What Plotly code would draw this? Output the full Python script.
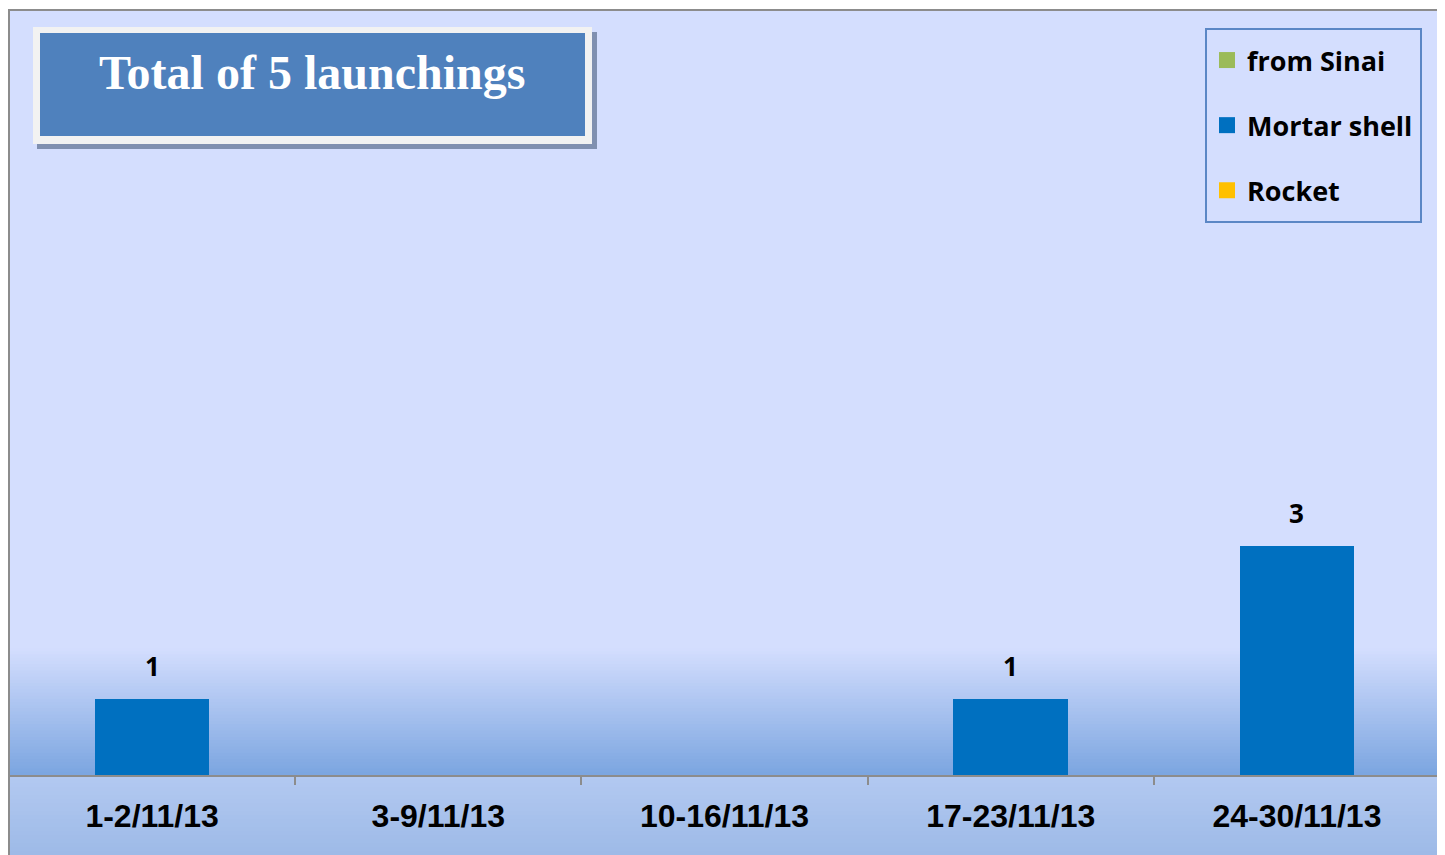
import plotly.graph_objects as go

# ---- data ----
categories = ["1-2/11/13", "3-9/11/13", "10-16/11/13", "17-23/11/13", "24-30/11/13"]
from_sinai = [0, 0, 0, 0, 0]
mortar_shell = [1, 0, 0, 1, 3]
rocket = [0, 0, 0, 0, 0]
title_text = "Total of 5 launchings"

series = [
    ("from Sinai", from_sinai, "#9BBB59"),
    ("Mortar shell", mortar_shell, "#0070C0"),
    ("Rocket", rocket, "#FFC000"),
]
totals = [a + b + c for a, b, c in zip(from_sinai, mortar_shell, rocket)]

# ---- layout geometry (page pixels; page body has an 8px margin) ----
OFF = 8
PAGE_W, PAGE_H = 1445, 855
W, H = PAGE_W - OFF, PAGE_H - OFF
PL, PT, PR, PB = 9, 10, 1440, 775   # plot area edges in page pixels
L, T = PL - OFF, PT - OFF
R = W - (PR - OFF)
B = H - (PB - OFF)
PW = PR - PL
PH = PB - PT


def px(x):
    return (x - PL) / PW


def py(y):
    return (PB - y) / PH


def hexlerp(c1, c2, t):
    a = [int(c1[i:i + 2], 16) for i in (1, 3, 5)]
    b = [int(c2[i:i + 2], 16) for i in (1, 3, 5)]
    return "#" + "".join(f"{round(a[k] + (b[k] - a[k]) * t):02x}" for k in range(3))


fig = go.Figure()
for name, vals, col in series:
    fig.add_trace(go.Bar(
        x=categories, y=vals, name=name, marker_color=col,
        marker_line_width=0, legendgroup=name, showlegend=False,
    ))
# legend proxies (square swatches of 16px)
for name, vals, col in series:
    fig.add_trace(go.Scatter(
        x=[None], y=[None], mode="markers", name=name, legendgroup=name,
        marker=dict(symbol="square", size=16, color=col), showlegend=True,
    ))

shapes = []
# gradient near the bottom of plot area
N = 40
g_top, g_bot = 648, 775
for i in range(N):
    y0 = g_top + (g_bot - g_top) * i / N
    y1 = g_top + (g_bot - g_top) * (i + 1) / N
    shapes.append(dict(type="rect", xref="paper", yref="paper", x0=0, x1=1,
                       y0=py(min(y1 + 2, g_bot)), y1=py(y0), layer="below", line_width=0,
                       fillcolor=hexlerp("#D4DEFE", "#7BA5E0", (i + 0.5) / N)))
# gradient below axis
N2 = 20
for i in range(N2):
    y0 = 775 + (PAGE_H - 775) * i / N2
    y1 = 775 + (PAGE_H - 775) * (i + 1) / N2
    shapes.append(dict(type="rect", xref="paper", yref="paper", x0=0, x1=1,
                       y0=py(y1 + 2), y1=py(y0), layer="below", line_width=0,
                       fillcolor=hexlerp("#B3C9F1", "#9DBAE7", (i + 0.5) / N2)))
# outer border
shapes.append(dict(type="rect", xref="paper", yref="paper", x0=0, x1=1,
                   y0=py(PAGE_H + 20), y1=1, layer="above",
                   line=dict(color="#8C8C8C", width=2), fillcolor="rgba(0,0,0,0)"))
# legend frame
shapes.append(dict(type="rect", xref="paper", yref="paper", x0=px(1206), x1=px(1421),
                   y0=py(222), y1=py(29), layer="above",
                   line=dict(color="#5B87C5", width=2), fillcolor="rgba(0,0,0,0)"))
# title box: shadow, frame, fill
shapes.append(dict(type="rect", xref="paper", yref="paper", x0=px(37), x1=px(597),
                   y0=py(149), y1=py(32), line_width=0, fillcolor="#8090B0", layer="above"))
shapes.append(dict(type="rect", xref="paper", yref="paper", x0=px(33), x1=px(592),
                   y0=py(144), y1=py(27), line_width=0, fillcolor="#F2F2F2", layer="above"))
shapes.append(dict(type="rect", xref="paper", yref="paper", x0=px(40), x1=px(585),
                   y0=py(136), y1=py(33), line_width=0, fillcolor="#4F81BD", layer="above"))

annotations = [dict(
    text=title_text, xref="paper", yref="paper", x=px(312), y=py(72),
    xanchor="center", yanchor="middle", showarrow=False,
    font=dict(family="Liberation Serif", size=48, color="white", weight="bold"),
)]
for cat, tot in zip(categories, totals):
    if tot > 0:
        annotations.append(dict(
            text=str(tot), x=cat, y=tot, xref="x", yref="y", yshift=33,
            xanchor="center", yanchor="middle", showarrow=False,
            font=dict(family="Open Sans", size=26, color="black", weight="bold"),
        ))

fig.update_layout(
    width=W, height=H,
    margin=dict(l=L, r=R, t=T, b=B, pad=0),
    paper_bgcolor="white",
    plot_bgcolor="#D4DEFE",
    barmode="stack",
    bargap=0.6,
    shapes=shapes,
    annotations=annotations,
    showlegend=True,
    legend=dict(
        x=px(1207), y=py(36), xanchor="left", yanchor="top",
        bgcolor="rgba(0,0,0,0)", borderwidth=0,
        font=dict(family="Open Sans", size=27, color="black", weight="bold"),
        traceorder="grouped", tracegroupgap=27, itemsizing="trace",
    ),
    xaxis=dict(
        type="category", showgrid=False, zeroline=False,
        showline=True, linecolor="#8C8C8C", linewidth=2,
        ticks="outside", tickson="boundaries", ticklen=8, tickcolor="#8C8C8C", tickwidth=2,
        ticklabelstandoff=12,
        tickfont=dict(family="Liberation Sans", size=32, color="black", weight="bold"),
    ),
    yaxis=dict(visible=False, range=[0, 10], showgrid=False, zeroline=False),
)

fig.write_html("out.html")
